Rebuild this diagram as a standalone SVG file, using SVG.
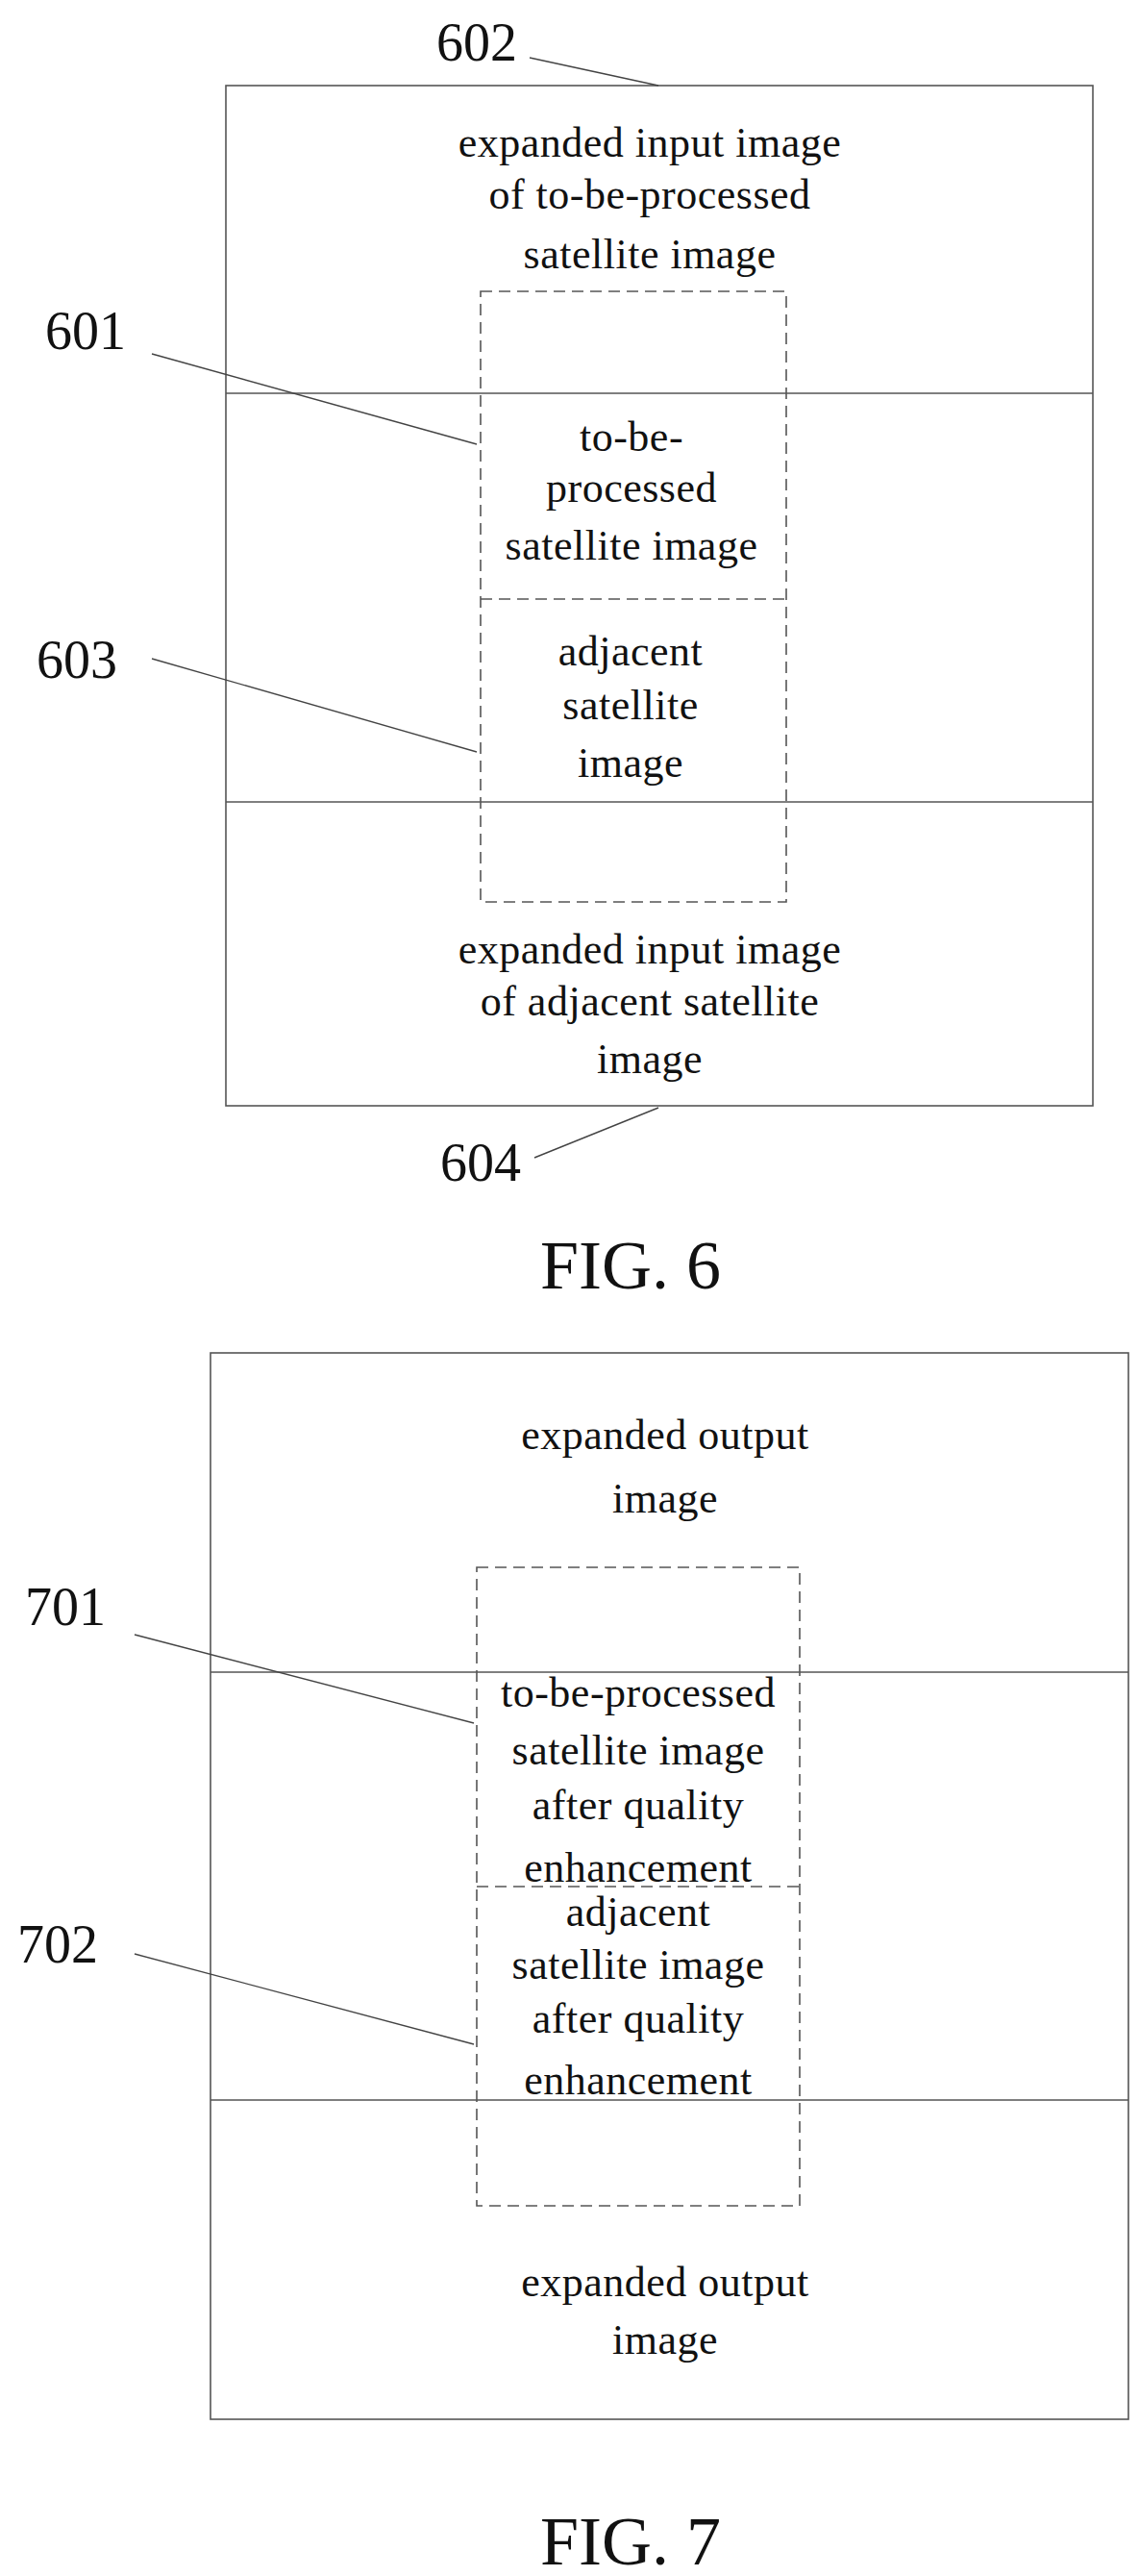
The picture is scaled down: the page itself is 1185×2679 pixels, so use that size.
<svg xmlns="http://www.w3.org/2000/svg" width="1185" height="2679" viewBox="0 0 1185 2679">
<style>
.b{fill:none;stroke:#555;stroke-width:1.6}
.d{fill:none;stroke:#555;stroke-width:1.6;stroke-dasharray:12,7}
.l{stroke:#444;stroke-width:1.4;fill:none}
text{font-family:"Liberation Serif",serif;fill:#111;text-anchor:middle}
.t{font-size:44px;letter-spacing:0.5px}
.n{font-size:56px}
.f{font-size:72px}
</style>
<rect width="1185" height="2679" fill="#fff"/>
<g id="fig6">
<g id="n602"><rect class="b" x="235" y="89" width="902" height="1061"/><line class="b" x1="235" y1="409" x2="1137" y2="409"/><line class="b" x1="235" y1="834" x2="1137" y2="834"/>
<text class="t" x="676" y="163">expanded input image</text><text class="t" x="676" y="217">of to-be-processed</text><text class="t" x="676" y="279">satellite image</text></g>
<g id="n601"><rect class="d" x="500" y="303" width="318" height="635"/><line class="d" x1="500" y1="623" x2="818" y2="623"/>
<text class="t" x="657" y="469">to-be-</text><text class="t" x="657" y="522">processed</text><text class="t" x="657" y="582">satellite image</text></g>
<g id="n603"><text class="t" x="656" y="692">adjacent</text><text class="t" x="656" y="748">satellite</text><text class="t" x="656" y="808">image</text></g>
<g id="n604"><text class="t" x="676" y="1002">expanded input image</text><text class="t" x="676" y="1056">of adjacent satellite</text><text class="t" x="676" y="1116">image</text></g>
<text class="n" x="496" y="63">602</text><text class="n" x="89" y="363">601</text><text class="n" x="80" y="705">603</text><text class="n" x="500" y="1228">604</text>
<text class="f" x="656" y="1340">FIG. 6</text>
</g>
<g id="fig7">
<g id="out"><rect class="b" x="219" y="1407" width="955" height="1109"/><line class="b" x1="219" y1="1739" x2="1174" y2="1739"/><line class="b" x1="219" y1="2184" x2="1174" y2="2184"/>
<text class="t" x="692" y="1507">expanded output</text><text class="t" x="692" y="1573">image</text>
<text class="t" x="692" y="2388">expanded output</text><text class="t" x="692" y="2448">image</text></g>
<g id="n701"><rect class="d" x="496" y="1630" width="336" height="664"/><line class="d" x1="496" y1="1962" x2="832" y2="1962"/>
<text class="t" x="664" y="1775">to-be-processed</text><text class="t" x="664" y="1835">satellite image</text><text class="t" x="664" y="1892">after quality</text><text class="t" x="664" y="1957">enhancement</text></g>
<g id="n702"><text class="t" x="664" y="2003">adjacent</text><text class="t" x="664" y="2058">satellite image</text><text class="t" x="664" y="2114">after quality</text><text class="t" x="664" y="2178">enhancement</text></g>
<text class="n" x="68" y="1690">701</text><text class="n" x="60" y="2041">702</text>
<text class="f" x="656" y="2667">FIG. 7</text>
</g>
<g id="connectors">
<line class="l" x1="551" y1="60" x2="685" y2="89"/>
<line class="l" x1="158" y1="368" x2="496" y2="462"/>
<line class="l" x1="158" y1="685" x2="496" y2="782"/>
<line class="l" x1="556" y1="1204" x2="685" y2="1152"/>
<line class="l" x1="140" y1="1700" x2="493" y2="1792"/>
<line class="l" x1="140" y1="2032" x2="493" y2="2126"/>
</g>
</svg>
